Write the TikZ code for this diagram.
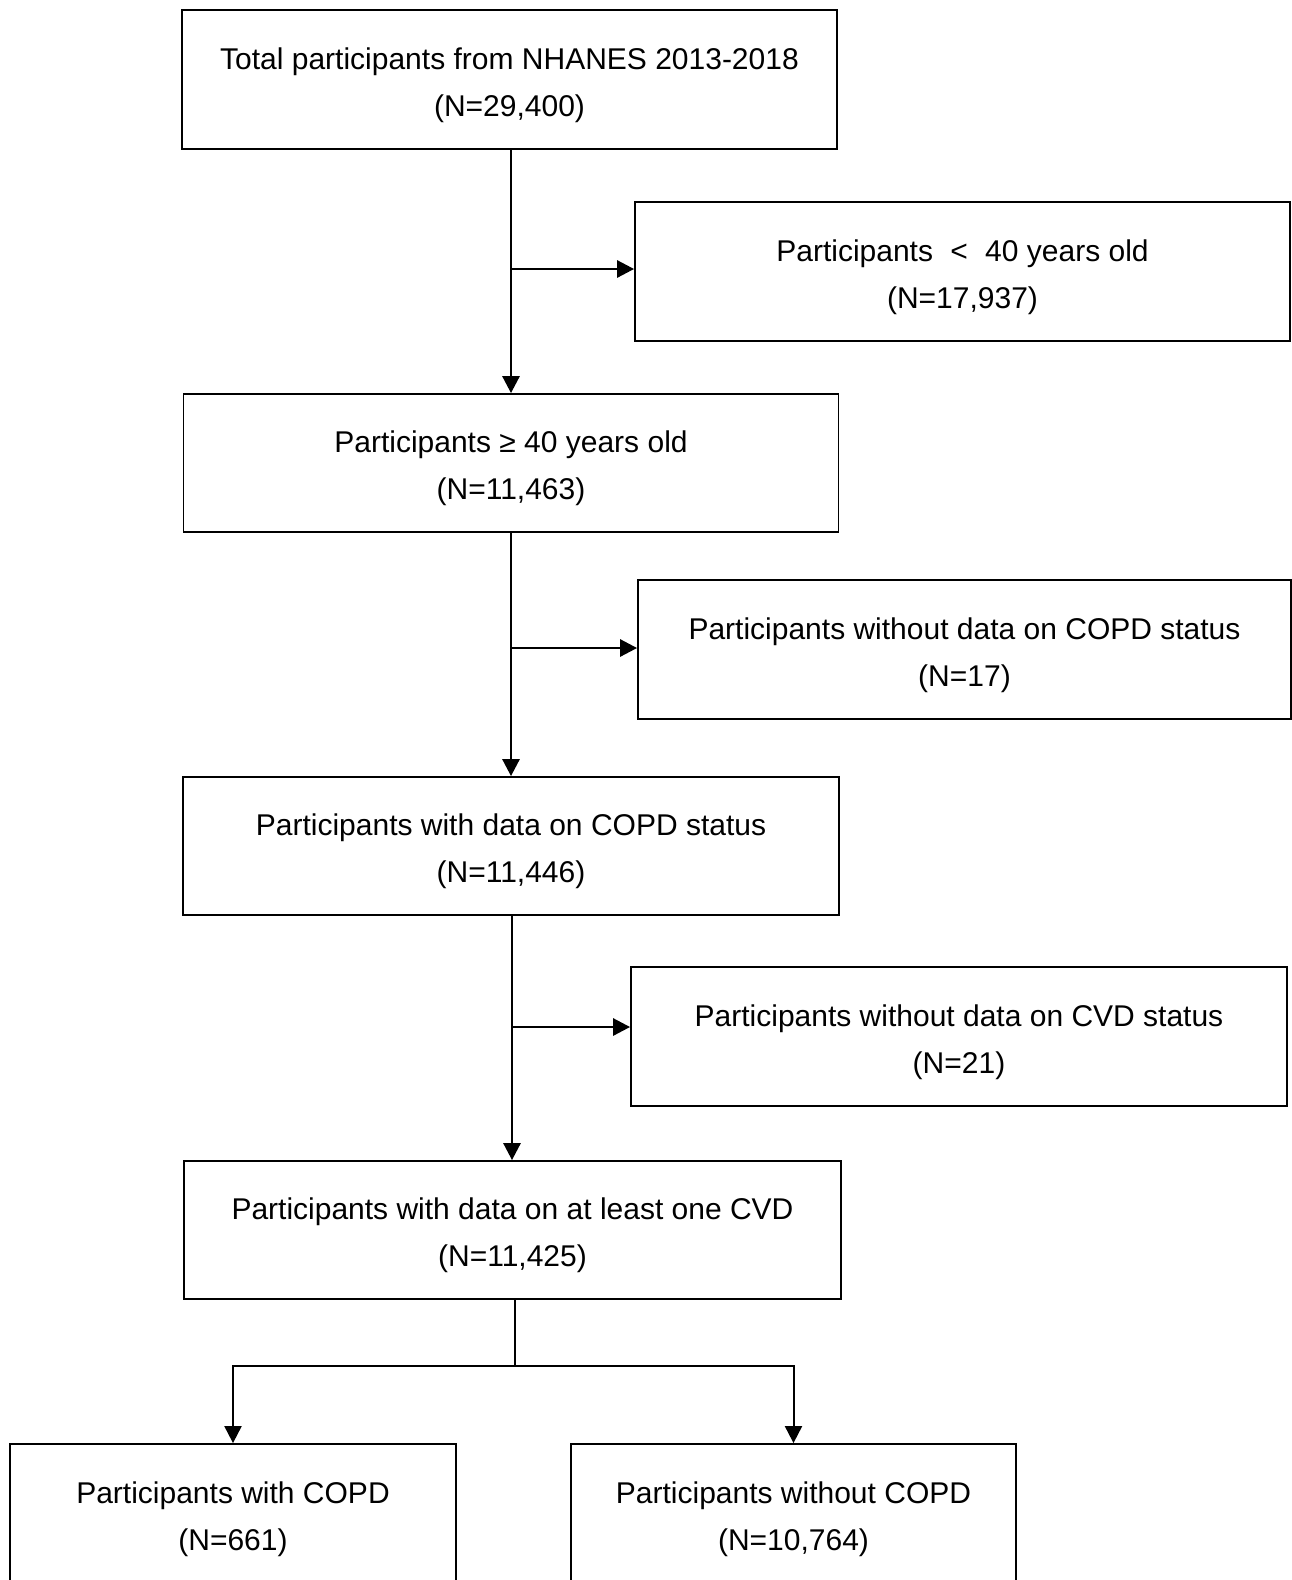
\documentclass[tikz,border=0pt]{standalone}
\usepackage{fontspec}
\setmainfont{Liberation Sans}
\usetikzlibrary{arrows.meta}
\begin{document}
\begin{tikzpicture}[x=1pt,y=-1pt,
  box/.style={draw,line width=1.8pt,inner sep=0pt,minimum height=139pt},
  wide/.style={box,minimum width=655pt},
  narrow/.style={box,minimum width=445pt},
  txt/.style={align=center,inner sep=0pt,font=\fontsize{30}{47}\selectfont},
  link/.style={line width=2.8pt},
  arrow/.style={link,-{Triangle[length=17pt,width=17pt]}}]
\useasboundingbox (0,0) rectangle (1292,1580);
\clip (0,0) rectangle (1292,1580);
\node[wide] (b1) at (509.5,79.5) {};
\node[wide] (b2) at (962.5,271.5) {};
\node[wide,minimum height=138pt] (b3) at (511,463) {};
\node[wide,minimum width=653pt] (b4) at (964.5,649.5) {};
\node[wide,minimum width=656pt,minimum height=138pt] (b5) at (511,846) {};
\node[wide,minimum width=656pt] (b6) at (959,1036.5) {};
\node[wide,minimum width=657pt,minimum height=138pt] (b7) at (512.5,1230) {};
\node[narrow,minimum width=446pt] (b8) at (233,1513.5) {};
\node[narrow] (b9) at (793.5,1513.5) {};
\node[txt] (b1t) at ([yshift=-5.5pt]b1.center) {Total participants from NHANES 2013-2018\\(N=29,400)};
\node[txt] (b2t) at ([yshift=-5.5pt]b2.center) {Participants \hspace{0.3em}<\hspace{0.3em} 40 years old\\(N=17,937)};
\node[txt] (b3t) at ([yshift=-5.5pt]b3.center) {Participants ≥ 40 years old\\(N=11,463)};
\node[txt] (b4t) at ([yshift=-5.5pt]b4.center) {Participants without data on COPD status\\(N=17)};
\node[txt] (b5t) at ([yshift=-5.5pt]b5.center) {Participants with data on COPD status\\(N=11,446)};
\node[txt] (b6t) at ([yshift=-5.5pt]b6.center) {Participants without data on CVD status\\(N=21)};
\node[txt] (b7t) at ([yshift=-5.5pt]b7.center) {Participants with data on at least one CVD\\(N=11,425)};
\node[txt] (b8t) at ([yshift=-5.5pt]b8.center) {Participants with COPD\\(N=661)};
\node[txt] (b9t) at ([yshift=-5.5pt]b9.center) {Participants without COPD\\(N=10,764)};
% trunk 1
\coordinate (t1) at (511,149);
\coordinate (j1) at (511,269);
\draw[arrow] (t1) -- (t1 |- b3.north);
\draw[arrow] (j1) -- (j1 -| b2.west);
% trunk 2
\coordinate (t2) at (511,532);
\coordinate (j2) at (511,648);
\draw[arrow] (t2) -- (t2 |- b5.north);
\draw[arrow] (j2) -- (j2 -| b4.west);
% trunk 3
\coordinate (t3) at (512,915);
\coordinate (j3) at (512,1027);
\draw[arrow] (t3) -- (t3 |- b7.north);
\draw[arrow] (j3) -- (j3 -| b6.west);
% split
\coordinate (t4) at (515,1299);
\coordinate (j4) at (515,1366);
\draw[link,line width=2pt] (t4) -- (j4);
\draw[arrow,line width=2pt] (j4) -| (b8.north);
\draw[arrow,line width=2pt] (j4) -| (b9.north);
\end{tikzpicture}
\end{document}
